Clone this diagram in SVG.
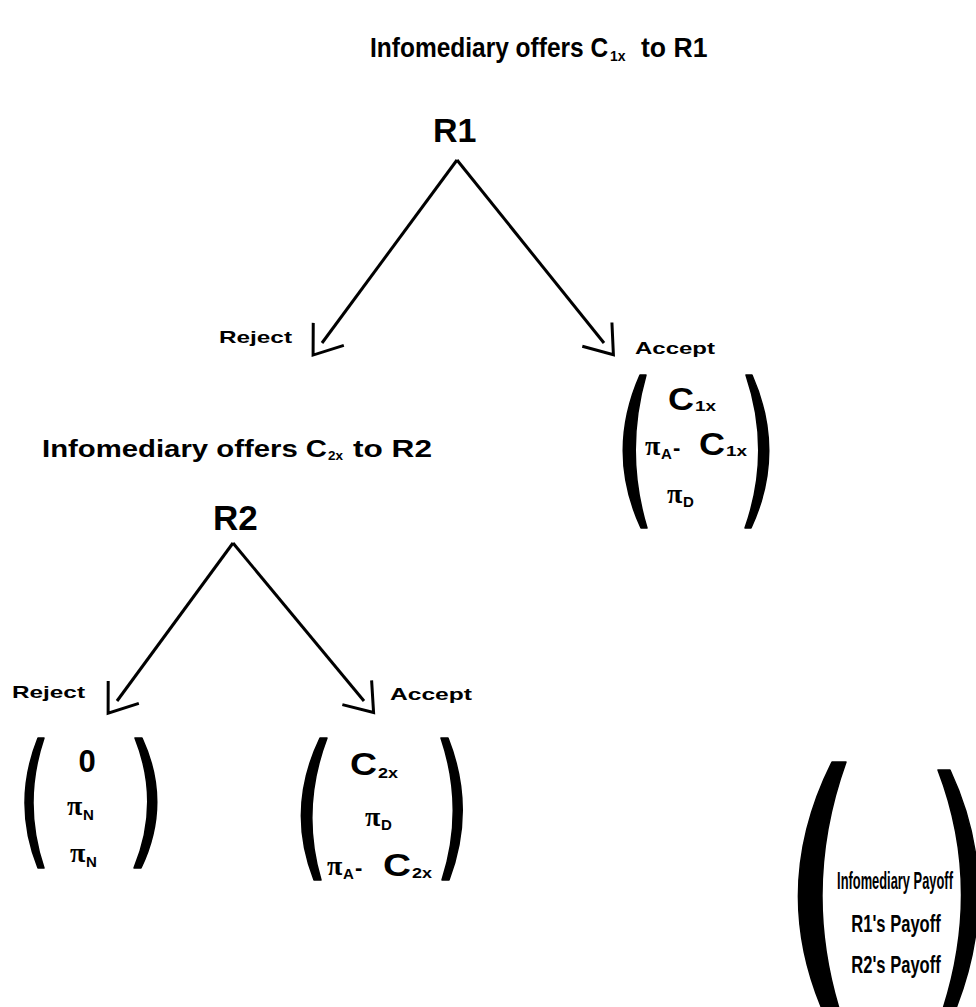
<svg xmlns="http://www.w3.org/2000/svg" width="976" height="1007" viewBox="0 0 976 1007">
<style>
.t{font-family:"Liberation Sans",Arial,sans-serif;font-weight:bold;fill:#000}
.pi{font-family:"Liberation Serif","DejaVu Serif",serif;font-weight:bold;fill:#000;font-size:28px}
.sub{font-family:"Liberation Sans",Arial,sans-serif;font-weight:bold;fill:#000;font-size:15px}
.big{font-family:"Liberation Sans",Arial,sans-serif;font-weight:bold;fill:#000;font-size:31px}
.lab{font-family:"Liberation Sans",Arial,sans-serif;font-weight:bold;fill:#000;font-size:17px}
.leg{font-family:"Liberation Sans",Arial,sans-serif;font-weight:bold;fill:#000;font-size:23px}
.edge{stroke:#000;stroke-width:3;fill:none;marker-end:url(#arr)}
.paren{fill:#000;stroke:#000;stroke-width:1.5;stroke-linejoin:round}
</style>
<defs>
<marker id="arr" markerUnits="userSpaceOnUse" markerWidth="32" markerHeight="44" viewBox="-2 -22 32 44" refX="11" refY="0" orient="auto" overflow="visible">
<path d="M0,-19 L26,0 L0,19" fill="none" stroke="#000" stroke-width="3"/>
</marker>
</defs>
<rect width="976" height="1007" fill="#fff"/>

<g id="title">
<text class="t" font-size="28" transform="translate(370,57) scale(0.875,1)">Infomediary offers C</text>
<text class="t" x="610" y="61" font-size="14">1x</text>
<text class="t" font-size="28" transform="translate(641,57) scale(0.95,1)">to R1</text>
</g>

<g id="node-R1">
<text class="t" x="433" y="142" font-size="34">R1</text>
</g>

<g id="connectors">
<line class="edge" x1="457" y1="160" x2="322" y2="343"/>
<line class="edge" x1="457" y1="160" x2="604" y2="343"/>
<line class="edge" x1="233" y1="543" x2="117" y2="701"/>
<line class="edge" x1="233" y1="543" x2="364" y2="701"/>
</g>

<g id="label-R1-reject">
<text class="lab" x="219" y="343" textLength="73" lengthAdjust="spacingAndGlyphs">Reject</text>
</g>

<g id="node-R1-accept">
<text class="lab" x="635" y="354" textLength="80" lengthAdjust="spacingAndGlyphs">Accept</text>
<path class="paren" d="M640,375 L646,375 Q624,452 647,528 L641,528 Q606,452 640,375 Z"/>
<path class="paren" d="M746,375 L752,375 Q786,452 751,528 L745,528 Q772,452 746,375 Z"/>
<text class="big" x="668" y="410" textLength="26" lengthAdjust="spacingAndGlyphs">C</text>
<text class="sub" x="695" y="411" font-size="16" textLength="21" lengthAdjust="spacingAndGlyphs">1x</text>
<text class="pi" x="645" y="455">π</text>
<text class="sub" x="661" y="459" font-size="13">A</text>
<text class="t" x="673" y="455" font-size="22">-</text>
<text class="big" x="699" y="455" textLength="26" lengthAdjust="spacingAndGlyphs">C</text>
<text class="sub" x="726" y="456" font-size="16" textLength="21" lengthAdjust="spacingAndGlyphs">1x</text>
<text class="pi" x="667" y="503">π</text>
<text class="sub" x="683" y="507" font-size="14">D</text>
</g>

<g id="subtitle">
<text class="t" x="42" y="457" font-size="23" textLength="285" lengthAdjust="spacingAndGlyphs">Infomediary offers C</text>
<text class="t" x="328" y="460" font-size="13" textLength="15" lengthAdjust="spacingAndGlyphs">2x</text>
<text class="t" x="353" y="457" font-size="23" textLength="79" lengthAdjust="spacingAndGlyphs">to R2</text>
</g>

<g id="node-R2">
<text class="t" x="213" y="530" font-size="35">R2</text>
</g>

<g id="node-R2-reject">
<text class="lab" x="12" y="698" textLength="73" lengthAdjust="spacingAndGlyphs">Reject</text>
<path class="paren" d="M38,738 L44,738 Q22,803 44,868 L38,868 Q12,803 38,738 Z"/>
<path class="paren" d="M135,738 L142,738 Q172,803 141,868 L134,868 Q161,803 135,738 Z"/>
<text class="big" x="87" y="772" text-anchor="middle">0</text>
<text class="pi" x="67" y="815">π</text>
<text class="sub" x="83" y="820" font-size="15">N</text>
<text class="pi" x="70" y="862">π</text>
<text class="sub" x="86" y="867" font-size="15">N</text>
</g>

<g id="node-R2-accept">
<text class="lab" x="390" y="700" textLength="82" lengthAdjust="spacingAndGlyphs">Accept</text>
<path class="paren" d="M320,738 L327,738 Q300,809 321,880 L314,880 Q286,809 320,738 Z"/>
<path class="paren" d="M441,738 L448,738 Q476,809 449,880 L442,880 Q465,809 441,738 Z"/>
<text class="big" x="350" y="775" textLength="27" lengthAdjust="spacingAndGlyphs">C</text>
<text class="sub" x="378" y="778" font-size="16" textLength="20" lengthAdjust="spacingAndGlyphs">2x</text>
<text class="pi" x="365" y="826">π</text>
<text class="sub" x="381" y="830" font-size="14">D</text>
<text class="pi" x="327" y="875">π</text>
<text class="sub" x="343" y="879" font-size="13">A</text>
<text class="t" x="355" y="875" font-size="22">-</text>
<text class="big" x="383" y="876" textLength="28" lengthAdjust="spacingAndGlyphs">C</text>
<text class="sub" x="412" y="878" font-size="16" textLength="20" lengthAdjust="spacingAndGlyphs">2x</text>
</g>

<g id="legend">
<path class="paren" d="M832,762 L846,762 Q800,890 842,1018 L826,1018 Q768,890 832,762 Z"/>
<path class="paren" d="M938,770 L950,770 Q1006,890 952,1018 L940,1018 Q984,890 938,770 Z"/>
<text class="leg" text-anchor="middle" transform="translate(895,889) scale(0.56,1)">Infomediary Payoff</text>
<text class="leg" text-anchor="middle" transform="translate(896,932) scale(0.72,1)">R1's Payoff</text>
<text class="leg" text-anchor="middle" transform="translate(896,973) scale(0.72,1)">R2's Payoff</text>
</g>
</svg>
